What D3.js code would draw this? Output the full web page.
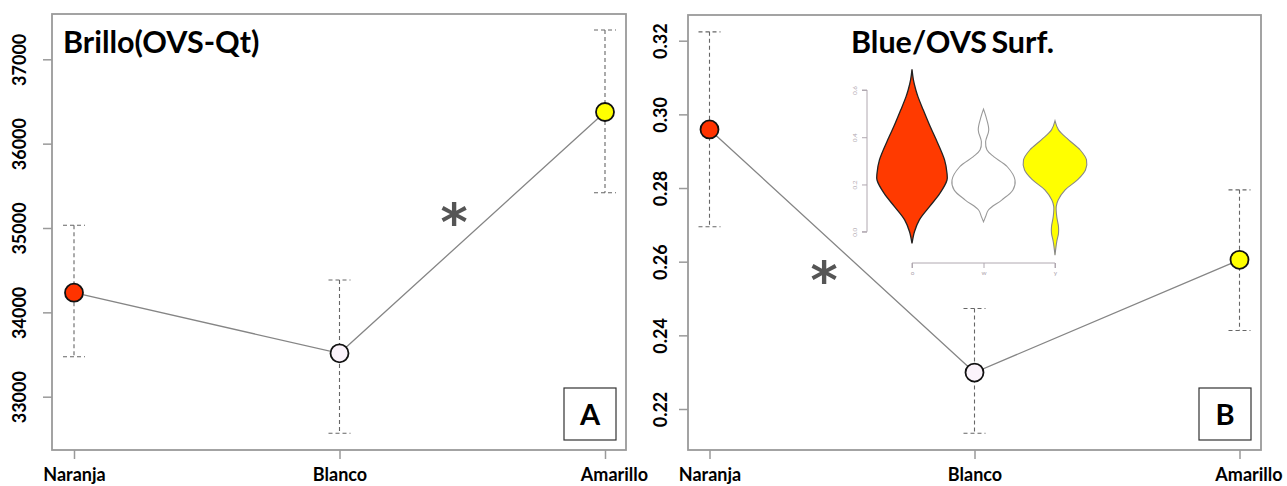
<!DOCTYPE html>
<html>
<head>
<meta charset="utf-8">
<script src="https://cdn.jsdelivr.net/npm/d3@7"></script>
<style>
  html, body { margin: 0; padding: 0; background: #fff; }
  svg { display: block; }
</style>
</head>
<body>
<svg id="chart" width="1287" height="486"></svg>
<script>
// ---------- DATA ----------
const categories = ["Naranja", "Blanco", "Amarillo"];

const brilloMean  = [34233, 33514, 36375];
const brilloUpper = [35032, 34383, 37347];
const brilloLower = [33474, 32566, 35418];
const brilloTicks = [33000, 34000, 35000, 36000, 37000];

const blueMean  = [0.2959, 0.2299, 0.2605];
const blueUpper = [0.3224, 0.2473, 0.2795];
const blueLower = [0.2695, 0.2134, 0.2413];
const blueTicks = [0.22, 0.24, 0.26, 0.28, 0.30, 0.32];

const pointColors = ["#ff3300", "#fbf3fb", "#ffff00"];

// inset violin plot (value, relative half-width)
const insetGroups = ["o", "w", "y"];
const insetTicks = [0.0, 0.2, 0.4, 0.6];
const violinOrange = [[0.688,0],[0.643,0.04],[0.600,0.11],[0.572,0.17],[0.516,0.32],[0.445,0.52],
  [0.4,0.66],[0.304,0.93],[0.247,1.0],[0.219,1.0],[0.163,0.8],[0.106,0.5],[0.05,0.21],[0.0,0.07],[-0.05,0]];
const violinWhite = [[0.519,0],[0.487,0.07],[0.431,0.15],[0.381,0.06],[0.346,0.1],[0.318,0.29],
  [0.275,0.68],[0.219,0.9],[0.177,0.84],[0.134,0.52],[0.092,0.14],[0.064,0.06],[0.042,0]];
const violinYellow = [[0.469,0],[0.431,0.1],[0.389,0.39],[0.346,0.72],[0.304,0.9],[0.261,0.87],
  [0.219,0.64],[0.177,0.29],[0.134,0.09],[0.106,0.035],[0.064,0.05],[0.021,0.1],[-0.007,0.1],[-0.042,0.05],[-0.099,0]];
const violinFill = ["#ff3a00", "#ffffff", "#ffff00"];
const violinStroke = ["#222222", "#999999", "#888888"];

// ---------- DRAW ----------
const svg = d3.select("#chart");
const FONT = "Lato, 'Open Sans', sans-serif";
const FRAME = "#9a9a9a";

function panel(cfg) {
  const g = svg.append("g");
  const x = d3.scalePoint().domain(categories).range(cfg.xRange);
  const y = d3.scaleLinear().domain(cfg.yDomain).range(cfg.yRange);

  // frame
  g.append("rect")
    .attr("x", cfg.frame[0]).attr("y", cfg.frame[1])
    .attr("width", cfg.frame[2] - cfg.frame[0]).attr("height", cfg.frame[3] - cfg.frame[1])
    .attr("fill", "none").attr("stroke", FRAME).attr("stroke-width", 1.8);

  // y axis
  const ya = g.append("g").attr("transform", `translate(${cfg.frame[0]},0)`)
    .call(d3.axisLeft(y).tickValues(cfg.ticks).tickSize(9).tickFormat(cfg.fmt));
  ya.select(".domain").remove();
  ya.selectAll(".tick line").attr("stroke", FRAME).attr("stroke-width", 1.5);
  ya.selectAll(".tick text")
    .attr("x", null).attr("dy", null)
    .attr("transform", `translate(${-cfg.labelOff},0) rotate(-90)`)
    .attr("text-anchor", "middle")
    .attr("font-family", FONT).attr("font-weight", 700).attr("font-size", 18)
    .attr("fill", "#000");

  // x axis
  const xa = g.append("g").attr("transform", `translate(0,${cfg.frame[3]})`)
    .call(d3.axisBottom(x).tickSize(9));
  xa.select(".domain").remove();
  xa.selectAll(".tick line").attr("stroke", FRAME).attr("stroke-width", 1.5);
  xa.selectAll(".tick text")
    .attr("y", 31).attr("dy", null)
    .attr("dx", d => d === "Amarillo" ? 9 : 0)
    .attr("font-family", FONT).attr("font-weight", 700).attr("font-size", 18)
    .attr("fill", "#000");

  // error bars
  const eb = g.append("g").attr("stroke", "#666").attr("stroke-width", 1.1)
    .attr("stroke-dasharray", "4,3").attr("fill", "none");
  categories.forEach((c, i) => {
    eb.append("line").attr("x1", x(c)).attr("x2", x(c))
      .attr("y1", y(cfg.upper[i])).attr("y2", y(cfg.lower[i]));
    [cfg.upper[i], cfg.lower[i]].forEach(v => {
      eb.append("line").attr("x1", x(c) - 11).attr("x2", x(c) + 11)
        .attr("y1", y(v)).attr("y2", y(v));
    });
  });

  // connecting line
  g.append("path")
    .datum(cfg.mean)
    .attr("d", d3.line().x((d, i) => x(categories[i])).y(d => y(d)))
    .attr("fill", "none").attr("stroke", "#858585").attr("stroke-width", 1.3);

  // points
  g.selectAll("circle.pt").data(cfg.mean).join("circle")
    .attr("class", "pt")
    .attr("cx", (d, i) => x(categories[i])).attr("cy", d => y(d))
    .attr("r", 9).attr("fill", (d, i) => pointColors[i])
    .attr("stroke", "#111").attr("stroke-width", 1.8);

  // title
  g.append("text").attr("x", cfg.title[1]).attr("y", 53)
    .attr("font-family", FONT).attr("font-weight", 700).attr("font-size", 30.5)
    .attr("word-spacing", cfg.title[2])
    .attr("fill", "#000").text(cfg.title[0]);

  // asterisk
  g.append("text").attr("x", cfg.star[0]).attr("y", cfg.star[1])
    .attr("text-anchor", "middle")
    .attr("font-family", "'DejaVu Sans', sans-serif").attr("font-weight", 700).attr("font-size", 52)
    .attr("fill", "#555").text("*");

  // letter box
  const b = cfg.box;
  g.append("rect").attr("x", b[1]).attr("y", 388).attr("width", 52).attr("height", 52)
    .attr("fill", "#fff").attr("stroke", "#333").attr("stroke-width", 1.2);
  g.append("text").attr("x", b[1] + 26).attr("y", 425).attr("text-anchor", "middle")
    .attr("font-family", FONT).attr("font-weight", 700).attr("font-size", 29)
    .attr("fill", "#000").text(b[0]);
}

panel({
  frame: [52, 14, 626, 450], xRange: [74, 605],
  yDomain: [33000, 37000], yRange: [396.7, 59.3], ticks: brilloTicks, fmt: d3.format("d"),
  labelOff: 26, mean: brilloMean, upper: brilloUpper, lower: brilloLower,
  title: ["Brillo(OVS-Qt)", 63, 0], star: [454, 240], box: ["A", 564]
});
panel({
  frame: [688, 15, 1261, 450], xRange: [709.5, 1239.5],
  yDomain: [0.22, 0.32], yRange: [409, 40.7], ticks: blueTicks, fmt: d3.format(".2f"),
  labelOff: 21, mean: blueMean, upper: blueUpper, lower: blueLower,
  title: ["Blue/OVS Surf.", 851, -3], star: [824, 298], box: ["B", 1199]
});

// ---------- INSET VIOLIN ----------
const inset = svg.append("g");
const ix = d3.scalePoint().domain(insetGroups).range([912, 1055]);
const iy = d3.scaleLinear().domain([0, 0.6]).range([231.7, 90]);
const iw = d3.scaleLinear().domain([0, 1]).range([0, 35]);
const INSET = "#b0a8b0";

const iya = inset.append("g").attr("transform", "translate(867,0)")
  .call(d3.axisLeft(iy).tickValues(insetTicks).tickSize(5).tickFormat(d3.format(".1f")));
iya.select(".domain").attr("stroke", INSET).attr("d", `M-5,${iy(0.6)}H0V${iy(0)}H-5`);
iya.selectAll(".tick line").attr("stroke", INSET);
iya.selectAll(".tick text").attr("x", null).attr("dy", null)
  .attr("transform", "translate(-10,0) rotate(-90)").attr("text-anchor", "middle")
  .attr("font-family", FONT).attr("font-size", 6.5).attr("fill", INSET);

const ixa = inset.append("g").attr("transform", "translate(0,263)")
  .call(d3.axisBottom(ix).tickSize(5));
ixa.select(".domain").attr("stroke", INSET).attr("d", `M${ix("o")},5V0H${ix("y")}V5`);
ixa.selectAll(".tick line").attr("stroke", INSET);
ixa.selectAll(".tick text").attr("y", 12).attr("dy", null)
  .attr("font-family", FONT).attr("font-size", 6.5).attr("fill", INSET);

[violinOrange, violinWhite, violinYellow].forEach((vd, i) => {
  const cx = ix(insetGroups[i]);
  inset.append("path").datum(vd)
    .attr("d", d3.area().curve(d3.curveCatmullRom)
      .y(d => iy(d[0])).x0(d => cx - iw(d[1])).x1(d => cx + iw(d[1])))
    .attr("fill", violinFill[i]).attr("stroke", violinStroke[i]).attr("stroke-width", i === 0 ? 1.3 : 1.1);
});
</script>
</body>
</html>
